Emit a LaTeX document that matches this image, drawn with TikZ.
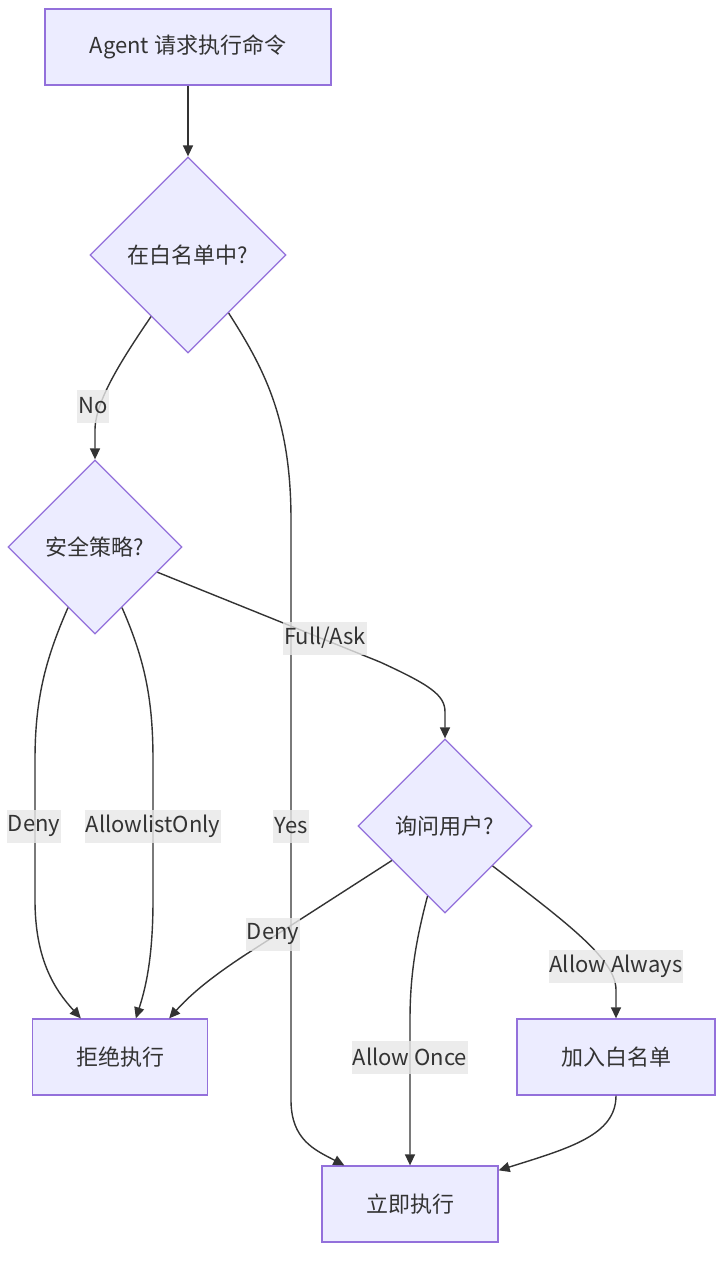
\documentclass[tikz,border=0pt]{standalone}
\usepackage{fontspec}
\setmainfont{Noto Sans CJK SC}
\usetikzlibrary{shapes.geometric,arrows.meta,calc}
\definecolor{nfill}{HTML}{ECECFF}
\definecolor{nline}{HTML}{9370DB}
\definecolor{ink}{HTML}{333333}
\definecolor{lbl}{HTML}{E8E8E8}
\begin{document}
\begin{tikzpicture}[x=1pt,y=-1pt,
  txt/.style={text=ink,font=\fontsize{22}{25}\selectfont},
  box/.style={txt,draw=nline,fill=nfill,line width=1.3pt,minimum height=76pt,inner sep=0pt},
  dia/.style={txt,diamond,draw=nline,fill=nfill,line width=1.3pt,inner sep=0pt},
  edge/.style={draw=ink,line width=1.4pt,-{Triangle[length=11pt,width=10pt]}},
  lab/.style={txt,fill=lbl,fill opacity=0.8,text opacity=1,inner xsep=1pt,inner ysep=0pt,minimum height=33pt}]
\useasboundingbox (0,0) rectangle (720,1262);
\fill[white] (0,0) rectangle (720,1262);

% nodes
\node[box,minimum width=286pt] (A) at (188,47) {Agent 请求执行命令};
\node[dia,minimum width=196pt,minimum height=196pt] (B) at (188,255) {在白名单中?};
\node[dia,minimum width=174pt,minimum height=174pt] (C) at (95,547) {安全策略?};
\node[dia,minimum width=174pt,minimum height=174pt] (D) at (445,826) {询问用户?};
\node[box,minimum width=175pt] (E) at (120,1057) {拒绝执行};
\node[box,minimum width=198pt] (F) at (616,1057) {加入白名单};
\node[box,minimum width=176pt] (G) at (410,1204) {立即执行};

% edges
\draw[edge] (A.south) -- (B.north);
\draw[edge] (B.239) .. controls (125,355) and (95,400) .. (95,430) -- (C.north);
\draw[edge] (B.305) .. controls (265,370) and (291,420) .. (291,520) -- (291,1100)
  .. controls (291,1140) and (315,1150) .. ($(G.north west)+(23,0)$);
\draw[edge] (C.246) .. controls (45,660) and (35,700) .. (35,760) -- (35,900)
  .. controls (35,960) and (55,990) .. ($(E.north west)+(49,0)$);
\draw[edge] (C.294) .. controls (145,660) and (153,700) .. (153,760) -- (153,900)
  .. controls (153,960) and (145,990) .. ($(E.north west)+(104,0)$);
\draw[edge] (C.338) -- (380,662) .. controls (430,685) and (445,695) .. (445,712) -- (D.north);
\draw[edge] (D.213) -- (245,955) .. controls (210,978) and (190,995) .. ($(E.north east)+(-39,0)$);
\draw[edge] (D.256) .. controls (416,940) and (410,975) .. (410,1020) -- (G.north);
\draw[edge] (D.320) .. controls (570,925) and (616,960) .. (616,990) -- (F.north);
\draw[edge] (F.south) .. controls (616,1135) and (570,1148) .. ($(G.north east)+(0,5)$);

% labels
\node[lab] (lNo) at (93,406) {No};
\node[lab] (lYes) at (291,826) {Yes};
\node[lab] (lDeny1) at (34,826) {Deny};
\node[lab] (lAllowlist) at (153,826) {AllowlistOnly};
\node[lab] (lFull) at (325,638) {Full/Ask};
\node[lab] (lDeny2) at (273,934) {Deny};
\node[lab] (lOnce) at (410,1057) {Allow Once};
\node[lab] (lAlways) at (616,966) {Allow Always};
\end{tikzpicture}
\end{document}
